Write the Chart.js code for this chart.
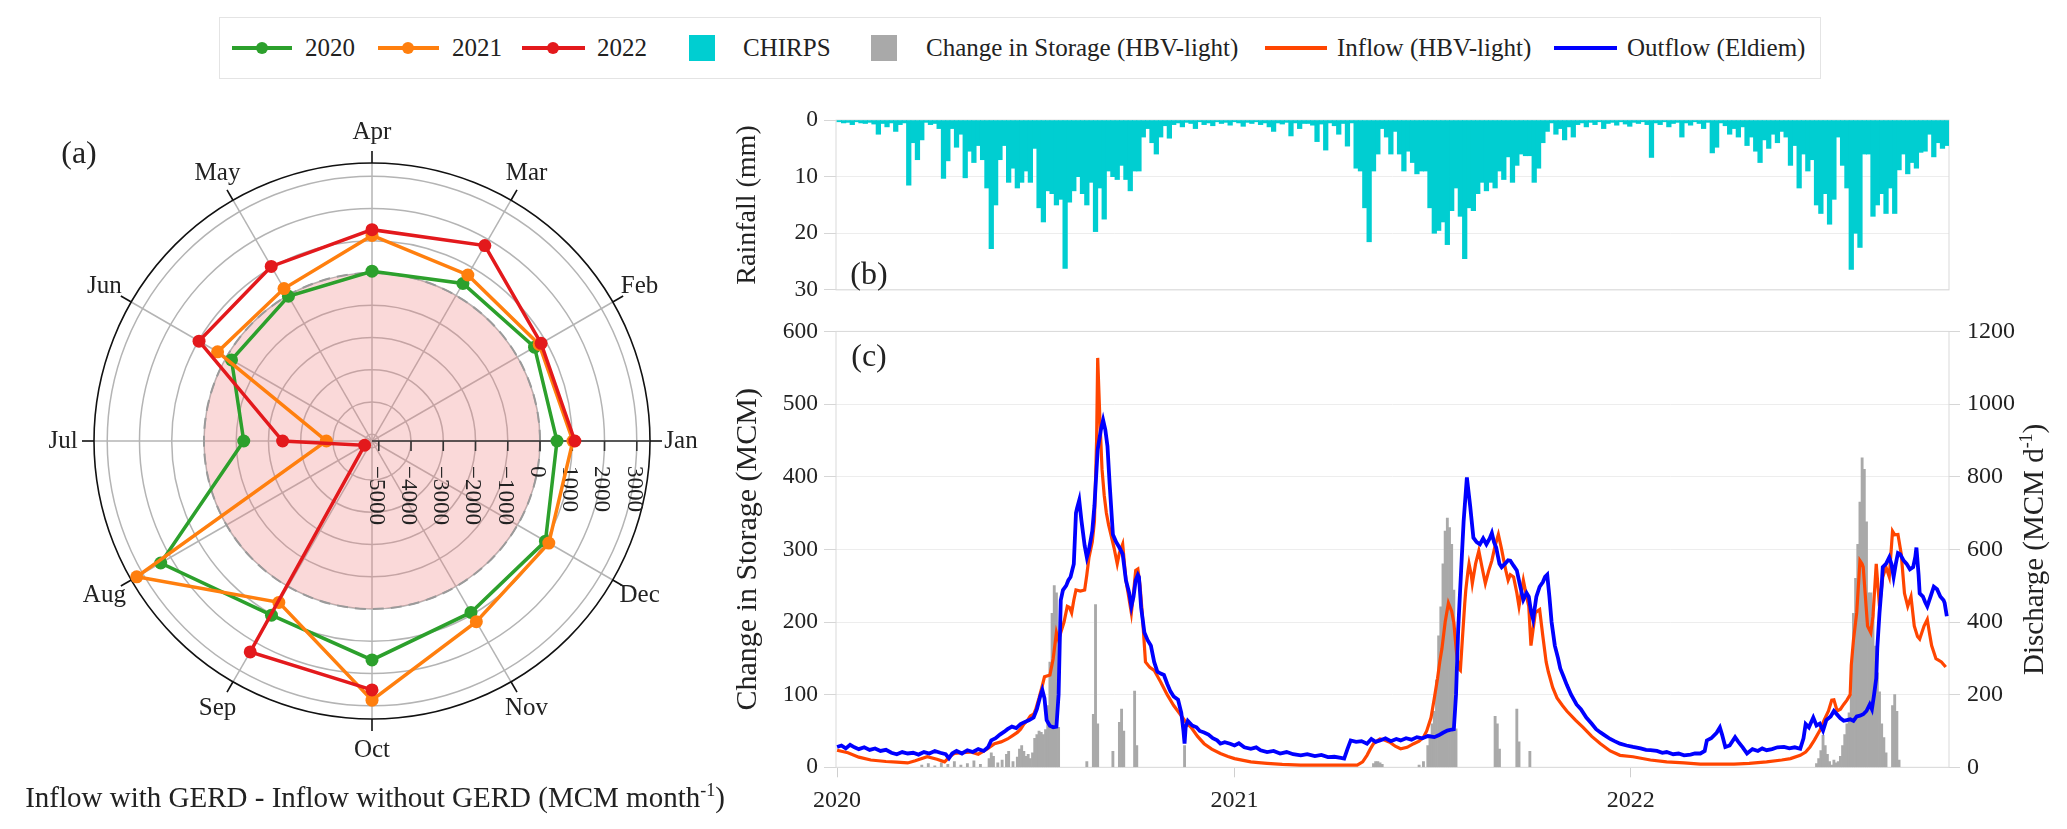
<!DOCTYPE html>
<html>
<head>
<meta charset="utf-8">
<title>GERD inflow, outflow and rainfall</title>
<script src="https://cdn.jsdelivr.net/npm/chart.js@4.4.1/dist/chart.umd.min.js"></script>
<style>
body{margin:0;width:2067px;height:829px;position:relative;overflow:hidden;background:#fff;font-family:"Liberation Serif","Times New Roman",serif;color:#222}
canvas{position:absolute}
#legend{position:absolute;left:219px;top:17px;width:1602px;height:62px;border:1px solid #e4e4e4;box-sizing:border-box}
.ln{position:absolute;height:4px;top:46px}
.dot{position:absolute;width:12px;height:12px;border-radius:50%;top:42px}
.sq{position:absolute;width:26px;height:26px;top:35px}
.lt{position:absolute;top:33px;font-size:25px;line-height:30px;white-space:nowrap}
</style>
</head>
<body>
<div id="legend"></div>
<div class="ln" style="left:232px;width:60px;background:#2ca02c"></div><div class="dot" style="left:256px;background:#2ca02c"></div><div class="lt" style="left:305px">2020</div>
<div class="ln" style="left:378px;width:61px;background:#ff7f0e"></div><div class="dot" style="left:402px;background:#ff7f0e"></div><div class="lt" style="left:452px">2021</div>
<div class="ln" style="left:522px;width:63px;background:#e3191c"></div><div class="dot" style="left:547px;background:#e3191c"></div><div class="lt" style="left:597px">2022</div>
<div class="sq" style="left:689px;background:#00ced1"></div><div class="lt" style="left:743px">CHIRPS</div>
<div class="sq" style="left:871px;background:#a9a9a9"></div><div class="lt" style="left:926px">Change in Storage (HBV-light)</div>
<div class="ln" style="left:1265px;width:62px;background:#ff4500"></div><div class="lt" style="left:1337px">Inflow (HBV-light)</div>
<div class="ln" style="left:1554px;width:63px;background:#0000ff"></div><div class="lt" style="left:1627px">Outflow (Eldiem)</div>

<canvas id="radar" width="745" height="729" style="left:0;top:100px"></canvas>
<canvas id="rain" width="1367" height="210" style="left:700px;top:100px"></canvas>
<canvas id="flow" width="1367" height="519" style="left:700px;top:310px"></canvas>

<script>
Chart.defaults.font.family = '"Liberation Serif", "Times New Roman", serif';
Chart.defaults.color = '#222';
Chart.defaults.animation = false;

// (a) inflow with GERD - inflow without GERD, MCM/month, Jan..Dec
const months = ['Jan','Feb','Mar','Apr','May','Jun','Jul','Aug','Sep','Oct','Nov','Dec'];
const diff2020 = [526, 609, 429, 55, -28, -180, -1233, 2355, 1025, 1579, 928, 1000];
const diff2021 = [1020, 776, 734, 1163, 249, 318, -3795, 3213, 568, 2825, 1260, 1120];
const diff2022 = [1080, 845, 1787, 1343, 1039, 983, -2438, -4945, 2341, 2507, null, null];
const rTicks = [-5000, -4000, -3000, -2000, -1000, 0, 1000, 2000, 3000];
const rMin = -5210, rMax = 3410;
// months clockwise from the top (Apr) -> Jan ends up on the right
const radarOrder = [3, 2, 1, 0, 11, 10, 9, 8, 7, 6, 5, 4];

// time axis in days since 2020-01-01
const dayMin = -1, dayMax = 1024;
const yearDays = [0, 366, 731];
const yearLabels = ['2020', '2021', '2022'];

// (b) CHIRPS rainfall (mm), 4-day steps from 2020-01-01
const rainStep = 4;
const rainfall = [
  0.3,0.5,0.4,0.8,0.3,0.5,0.6,0.4,0.7,2.5,0.6,1.2,0.5,2,0.8,0.5,
  11.5,4,7,3.5, 0.4,0.8,0.6,1.5, 10.3,7.2,1.5,4.8,2.5, 10.2,5.5,7.5,4.5,7,
  12,22.7,15,7,4.5, 11,8.5,12,11,9,11,5, 15.5,18,12.5,13,15,14,
  26.2,14.5,12.5,10,13,15,11, 19.7,12,17.5,9,10,10.5, 8,10.5,12.5,9,9,
  3,1.5,4,6,3,1,3.2,0.8, 0.5,1.2,0.4,0.6,1.5,0.3,0.8,0.5,1,
  0.3,0.6,0.4,0.9,0.3,0.5,1.1,0.4,0.6,0.3,0.8,0.5,1.2,
  2,0.5,0.7,0.4,2.8,0.5,1.5,0.6, 0.6,0.9,3.8,0.7,5.3,0.5,1,2.5,0.6,4.6,0.5,
  8.5,9,15.5,21.5,9,6, 1.5,3,6,2,6,9,5.5,7.5,9.5,9,9,
  15.5,20,19.5,18,22,16,12,17,24.5, 15.5,16,13,11,12.5,11,12,9,10.5,
  6.5,11,8,6,6.3,6.3,11,8.5,4,2, 0.5,2.5,1.5,3.5,1.2,3,0.8,
  0.5,1.2,0.4,0.8,0.3,1.5,0.6,0.4,0.9,0.3,0.7,1.1,0.4,0.6,0.3,0.8,
  6.6, 0.5,0.8,0.3,1.2,0.6,0.4,3,0.5,0.9,0.3,0.6,1.5,0.4,
  5.8,4.8,0.5,1,2.5,1.5,3,1.2, 4.5,3,5.5,7.5,3.5,5,2.5,4,2,3,
  8,4.5,12,6,9,7,15,16.5,13,18.4,14, 3,8,12,26.4,20,22.5,6,6,
  17,15,13,16.5,12,16.5,8.8,6,9.5, 7.5,8.5,5.7,5.5,2.5,6.5,4,5,4.5
];

// (c) [day, MCM/d] inflow (HBV-light)
const inflow = [
  [0,47],[10,40],[20,28],[31,20],[45,16],[55,14],[65,12],[72,18],[83,29],[92,22],[99,15],[104,30],[108,38],[115,40],[123,42],[130,36],
  [138,50],[145,65],[151,70],[157,78],[162,88],[166,96],[169,105],[172,119],[175,128],[178,141],[181,146],[183,160],[186,191],[189,225],
  [191,249],[194,252],[196,254],[199,299],[202,371],[204,350],[206,371],[209,400],[212,443],[214,440],[216,425],[218,460],[220,488],
  [224,485],[228,488],[230,530],[232,578],[235,620],[237,677],[239,900],[240,1127],[242,960],[244,820],[246,749],[248,700],[250,668],
  [253,630],[255,605],[258,560],[260,590],[263,614],[266,515],[268,480],[271,425],[273,480],[275,542],[277,546],[279,500],[281,425],
  [284,290],[288,275],[292,267],[298,235],[304,200],[310,170],[316,146],[321,125],[326,110],[332,85],[338,65],[345,50],[353,38],
  [360,30],[366,24],[374,19],[381,15],[388,13],[396,11],[410,8],[427,6],[458,6],[479,6],[484,15],[488,33],[491,50],[494,65],[497,72],
  [500,78],[504,75],[509,69],[514,58],[519,51],[525,55],[531,65],[536,72],[540,83],[543,100],[547,137],[550,190],[553,245],[555,290],
  [557,326],[560,400],[563,452],[566,430],[568,398],[570,330],[571,299],[573,270],[574,267],[576,360],[578,450],[579,488],[581,540],
  [582,560],[584,530],[585,506],[588,560],[591,596],[594,550],[597,506],[600,540],[603,569],[606,610],[609,641],[612,600],[614,569],
  [616,540],[618,515],[620,530],[623,524],[626,480],[628,443],[630,480],[632,515],[635,470],[637,443],[639,335],[641,380],[643,425],
  [645,430],[647,434],[650,360],[653,290],[655,263],[659,220],[663,191],[668,170],[672,155],[680,130],[687,110],[695,85],[703,65],
  [712,45],[721,33],[733,29],[749,20],[764,15],[780,12],[795,9],[826,9],[840,11],[856,15],[870,20],[878,24],[887,33],[892,42],
  [896,56],[900,75],[905,101],[909,130],[913,155],[916,185],[918,186],[921,155],[924,160],[927,173],[930,185],[933,200],[934,281],
  [936,350],[939,425],[941,520],[942,569],[944,560],[945,551],[947,470],[949,389],[952,371],[954,416],[957,560],[960,443],[963,524],
  [966,551],[969,524],[972,650],[974,640],[977,641],[980,587],[983,479],[986,443],[989,470],[992,389],[995,360],[997,353],[1001,389],
  [1004,407],[1006,370],[1008,335],[1012,299],[1017,290],[1021,276]
];

// (c) [day, MCM/d] outflow (Eldiem)
const outflow = [
  [0,56],[4,60],[8,52],[12,62],[16,55],[20,50],[25,55],[30,48],[35,52],[40,45],[45,48],[50,40],[55,36],[60,42],[65,38],[70,40],
  [75,35],[80,42],[85,38],[90,45],[95,40],[100,36],[103,25],[106,38],[110,45],[115,38],[120,47],[125,42],[130,50],[135,45],[139,55],
  [142,74],[146,80],[150,90],[154,98],[157,105],[161,112],[165,108],[169,119],[173,125],[177,130],[181,137],[184,160],[187,195],
  [189,213],[191,190],[193,130],[196,114],[199,110],[202,112],[204,200],[205,335],[206,460],[208,488],[211,500],[213,515],[215,524],
  [218,560],[220,700],[221,713],[223,735],[225,680],[228,610],[230,578],[232,600],[235,650],[237,720],[240,875],[243,930],[245,956],
  [247,930],[249,884],[251,780],[254,641],[257,620],[260,605],[263,587],[266,515],[269,480],[271,443],[273,470],[275,515],[277,530],
  [278,524],[280,440],[283,371],[286,350],[289,335],[292,290],[295,263],[298,258],[301,254],[304,230],[307,209],[310,195],[314,186],
  [317,150],[319,100],[320,65],[321,110],[323,128],[327,115],[331,110],[334,100],[338,96],[342,90],[346,80],[350,74],[353,65],
  [357,69],[362,65],[366,60],[370,66],[375,55],[381,51],[386,55],[390,47],[396,42],[402,45],[408,38],[414,42],[420,36],[427,33],
  [433,36],[440,31],[446,34],[452,28],[458,29],[464,26],[467,24],[470,50],[473,74],[478,70],[483,72],[488,65],[492,78],[496,70],
  [500,74],[505,80],[510,72],[515,78],[519,74],[524,80],[529,76],[534,83],[539,80],[544,86],[550,83],[554,88],[558,95],[562,101],
  [566,104],[568,105],[570,200],[572,380],[575,560],[577,677],[580,798],[583,720],[586,632],[589,620],[592,614],[595,630],[598,614],
  [601,630],[603,645],[605,620],[607,605],[610,560],[612,551],[615,560],[618,570],[620,569],[623,555],[626,542],[629,500],[632,461],
  [635,480],[637,470],[639,430],[641,407],[644,470],[647,497],[650,510],[652,524],[654,530],[656,470],[658,400],[661,335],[664,300],
  [666,272],[669,250],[672,227],[676,200],[681,173],[685,160],[690,137],[695,120],[699,105],[703,96],[707,88],[712,78],[716,72],
  [721,65],[727,60],[733,56],[740,52],[745,48],[749,47],[755,45],[760,40],[764,42],[770,36],[775,38],[780,33],[786,35],[790,38],
  [795,38],[799,45],[801,74],[805,80],[810,95],[813,110],[815,90],[818,56],[822,60],[827,83],[830,70],[834,55],[838,38],[843,50],
  [848,45],[852,52],[856,47],[861,50],[866,55],[872,56],[877,52],[882,55],[887,51],[890,80],[892,119],[895,110],[899,137],[902,115],
  [905,120],[908,101],[911,130],[915,140],[918,155],[921,145],[924,135],[927,128],[930,130],[933,132],[936,128],[939,140],[942,142],
  [945,146],[948,155],[951,173],[953,160],[955,200],[957,245],[958,330],[960,425],[962,500],[963,551],[966,560],[969,578],[971,560],
  [973,524],[975,560],[977,590],[979,587],[982,570],[985,560],[988,545],[991,551],[993,580],[994,605],[996,530],[997,479],[1000,470],
  [1002,455],[1004,443],[1007,470],[1010,497],[1013,490],[1016,470],[1019,460],[1020,452],[1022,416]
];

// (c) [day, MCM] change in storage (HBV-light), zero elsewhere
const storage = [
  [78,3],[84,5],[90,2],[96,6],[102,4],[108,8],[114,3],[120,5],[126,9],[132,4],[140,12],[142,20],[144,15],[148,6],[152,10],[156,18],
  [158,22],[162,8],[166,14],[168,25],[170,30],[172,22],[174,15],[176,18],[178,12],[180,20],[182,40],[184,45],[186,50],[188,48],
  [190,45],[192,52],[194,85],[196,145],[198,212],[200,250],[202,240],[204,55],[230,8],[236,73],[238,224],[240,60],[254,22],[260,62],
  [262,80],[264,50],[274,105],[276,30],[320,30],
  [494,5],[496,8],[498,8],[500,6],[502,4],[536,3],[540,8],[544,30],[546,45],[548,60],[550,77],[552,120],[554,181],[556,221],
  [558,280],[560,325],[562,343],[564,330],[566,307],[568,244],[570,53],[606,70],[608,60],[610,25],[626,80],[628,35],[638,22],
  [902,5],[904,12],[906,23],[908,44],[910,30],[912,18],[914,8],[916,3],[918,10],[920,6],[922,8],[924,15],[926,30],[928,45],
  [930,60],[932,75],[934,100],[936,212],[938,260],[940,307],[942,365],[944,426],[946,410],[948,338],[950,240],[952,240],[954,212],
  [956,167],[958,130],[960,104],[962,60],[964,41],[966,20],[972,85],[974,100],[976,77],[978,10]
];

const toXY = pairs => pairs.map(p => ({x: p[0], y: p[1]}));
const pick = arr => radarOrder.map(i => arr[i]);
const plain = v => String(v);

// text with a small raised part, e.g. "d-1"
function drawSupText(ctx, parts, x, y, size, rot) {
  const f1 = size + 'px "Liberation Serif"';
  const f2 = Math.round(size * 0.62) + 'px "Liberation Serif"';
  ctx.save();
  ctx.translate(x, y);
  ctx.rotate(rot);
  ctx.textAlign = 'left';
  ctx.textBaseline = 'alphabetic';
  ctx.fillStyle = '#222';
  ctx.font = f1;
  const w1 = ctx.measureText(parts[0]).width, w3 = ctx.measureText(parts[2]).width;
  ctx.font = f2;
  const w2 = ctx.measureText(parts[1]).width;
  let sx = -(w1 + w2 + w3) / 2;
  const base = size * 0.33;
  ctx.font = f1; ctx.fillText(parts[0], sx, base); sx += w1;
  ctx.font = f2; ctx.fillText(parts[1], sx, base - size * 0.38); sx += w2;
  ctx.font = f1; ctx.fillText(parts[2], sx, base);
  ctx.restore();
}

const radarDeco = {
  id: 'radarDeco',
  beforeDatasetsDraw(chart) {
    const s = chart.scales.r, ctx = chart.ctx;
    const cx = s.xCenter, cy = s.yCenter;
    const rOut = s.getDistanceFromCenterForValue(s.max);
    ctx.save();
    ctx.lineWidth = 1.5;
    ctx.strokeStyle = '#b4b4b4';
    rTicks.forEach(v => {
      ctx.beginPath();
      ctx.arc(cx, cy, s.getDistanceFromCenterForValue(v), 0, Math.PI * 2);
      ctx.stroke();
    });
    // shaded disc = negative difference
    ctx.beginPath();
    ctx.arc(cx, cy, s.getDistanceFromCenterForValue(0), 0, Math.PI * 2);
    ctx.fillStyle = 'rgba(240,128,128,0.3)';
    ctx.fill();
    ctx.setLineDash([11, 7]);
    ctx.strokeStyle = '#9a9a9a';
    ctx.lineWidth = 2;
    ctx.stroke();
    ctx.setLineDash([]);
    ctx.beginPath();
    ctx.arc(cx, cy, rOut, 0, Math.PI * 2);
    ctx.strokeStyle = '#111';
    ctx.lineWidth = 1.6;
    ctx.stroke();
    // radial axis drawn along the Jan spoke
    const janIdx = radarOrder.indexOf(0);
    const end = s.getPointPosition(janIdx, rOut);
    ctx.beginPath();
    ctx.moveTo(cx, cy);
    ctx.lineTo(end.x, end.y);
    ctx.strokeStyle = '#333';
    ctx.stroke();
    ctx.font = '23px "Liberation Serif"';
    ctx.fillStyle = '#222';
    ctx.textAlign = 'left';
    ctx.textBaseline = 'middle';
    rTicks.forEach(v => {
      const p = s.getPointPosition(janIdx, s.getDistanceFromCenterForValue(v));
      ctx.beginPath();
      ctx.moveTo(p.x, p.y);
      ctx.lineTo(p.x, p.y + 10);
      ctx.stroke();
      ctx.save();
      ctx.translate(p.x - 3, p.y + 25);
      ctx.rotate(Math.PI / 2);
      ctx.fillText(String(v).replace('-', '\u2212'), 0, 0);
      ctx.restore();
    });
    // month ticks + names
    ctx.strokeStyle = '#111';
    ctx.font = '25px "Liberation Serif"';
    ctx.textAlign = 'center';
    chart.data.labels.forEach((m, i) => {
      const a = s.getPointPosition(i, rOut), b = s.getPointPosition(i, rOut + 12), t = s.getPointPosition(i, rOut + 31);
      ctx.beginPath();
      ctx.moveTo(a.x, a.y);
      ctx.lineTo(b.x, b.y);
      ctx.stroke();
      ctx.fillText(m, t.x, t.y);
    });
    ctx.font = '32px "Liberation Serif"';
    ctx.fillText('(a)', 79, 55);
    drawSupText(ctx, ['Inflow with GERD - Inflow without GERD (MCM month', '-1', ')'], 375, 697, 29, 0);
    ctx.restore();
  }
};

const frame = {
  id: 'frame',
  beforeDatasetsDraw(chart) {
    const a = chart.chartArea, ctx = chart.ctx;
    ctx.save();
    ctx.strokeStyle = '#d9d9d9';
    ctx.lineWidth = 1;
    ctx.strokeRect(a.left, a.top, a.right - a.left, a.bottom - a.top);
    ctx.restore();
  }
};

function panelTag(txt, x, y) {
  return {
    id: 'tag' + txt,
    afterDraw(chart) {
      const ctx = chart.ctx;
      ctx.save();
      ctx.font = '32px "Liberation Serif"';
      ctx.fillStyle = '#222';
      ctx.textAlign = 'center';
      ctx.textBaseline = 'middle';
      ctx.fillText(txt, x, y);
      ctx.restore();
    }
  };
}

new Chart(document.getElementById('radar'), {
  type: 'radar',
  data: {
    labels: pick(months),
    datasets: [
      {label: '2022', data: pick(diff2022), borderColor: '#e3191c', backgroundColor: '#e3191c', fill: false, order: 0},
      {label: '2021', data: pick(diff2021), borderColor: '#ff7f0e', backgroundColor: '#ff7f0e', fill: false, order: 1},
      {label: '2020', data: pick(diff2020), borderColor: '#2ca02c', backgroundColor: '#2ca02c', fill: false, order: 2}
    ]
  },
  options: {
    responsive: false,
    events: [],
    spanGaps: false,
    layout: {padding: {left: 94, right: 95, top: 63.5, bottom: 109.5}},
    elements: {
      line: {borderWidth: 3.5, tension: 0},
      point: {radius: 6.5, borderWidth: 0}
    },
    plugins: {legend: {display: false}, tooltip: {enabled: false}},
    scales: {
      r: {
        min: rMin,
        max: rMax,
        startAngle: 0,
        ticks: {display: false},
        grid: {display: false},
        angleLines: {color: '#b4b4b4', lineWidth: 1.5},
        pointLabels: {display: false}
      }
    }
  },
  plugins: [radarDeco]
});

new Chart(document.getElementById('rain'), {
  type: 'bar',
  data: {
    datasets: [{
      label: 'CHIRPS',
      data: rainfall.map((v, i) => ({x: i * rainStep + rainStep / 2, y: v})),
      backgroundColor: '#00ced1',
      barThickness: 4.6
    }]
  },
  options: {
    responsive: false,
    events: [],
    layout: {padding: {left: 0, right: 118, top: 14, bottom: 13}},
    plugins: {legend: {display: false}, tooltip: {enabled: false}},
    scales: {
      x: {type: 'linear', min: dayMin, max: dayMax, display: false, offset: false, grid: {offset: false}},
      y: {
        min: 0, max: 30, reverse: true,
        ticks: {stepSize: 10, font: {size: 23.5}, padding: 6, callback: plain},
        grid: {color: '#ededed', tickLength: 12, tickColor: '#d6d6d6'},
        border: {display: false},
        title: {display: true, text: 'Rainfall (mm)', font: {size: 28}, padding: {top: 31, bottom: 0}},
        afterFit: s => { s.width = 136; }
      }
    }
  },
  plugins: [frame, panelTag('(b)', 169, 176)]
});

const dischargeTitle = {
  id: 'dischargeTitle',
  afterDraw(chart) {
    const a = chart.chartArea;
    drawSupText(chart.ctx, ['Discharge (MCM d', '-1', ')'], 1333, (a.top + a.bottom) / 2, 29, -Math.PI / 2);
  }
};

new Chart(document.getElementById('flow'), {
  type: 'line',
  data: {
    datasets: [
      {type: 'line', label: 'Outflow (Eldiem)', data: toXY(outflow), borderColor: '#0000ff', borderWidth: 3.8, pointRadius: 0, yAxisID: 'y2', order: 1},
      {type: 'line', label: 'Inflow (HBV-light)', data: toXY(inflow), borderColor: '#ff4500', borderWidth: 3.2, pointRadius: 0, yAxisID: 'y2', order: 2},
      {type: 'bar', label: 'Change in Storage (HBV-light)', data: toXY(storage), backgroundColor: '#a9a9a9', barThickness: 2.2, yAxisID: 'y', order: 3}
    ]
  },
  options: {
    responsive: false,
    events: [],
    layout: {padding: {left: 0, right: 0, top: 12.7, bottom: 0}},
    elements: {line: {tension: 0}},
    plugins: {legend: {display: false}, tooltip: {enabled: false}},
    scales: {
      x: {
        type: 'linear', min: dayMin, max: dayMax, offset: false,
        grid: {offset: false, drawOnChartArea: false, tickLength: 10, color: '#cfcfcf'},
        border: {display: false},
        ticks: {font: {size: 24}, padding: 9, autoSkip: false, maxRotation: 0, callback: (v, i) => yearLabels[i]},
        afterBuildTicks: s => { s.ticks = yearDays.map(v => ({value: v})); },
        afterFit: s => { s.height = 61.7; }
      },
      y: {
        position: 'left', min: 0, max: 600,
        ticks: {stepSize: 100, font: {size: 23.5}, padding: 6, callback: plain},
        grid: {color: '#ededed', tickLength: 12, tickColor: '#d6d6d6'},
        border: {display: false},
        title: {display: true, text: 'Change in Storage (MCM)', font: {size: 30}, padding: {top: 30.5, bottom: 0}},
        afterFit: s => { s.width = 136; }
      },
      y2: {
        position: 'right', min: 0, max: 1200,
        ticks: {stepSize: 200, font: {size: 24}, padding: 7, callback: plain},
        grid: {drawOnChartArea: false, tickLength: 11, color: '#d6d6d6'},
        border: {display: false},
        afterFit: s => { s.width = 118; }
      }
    }
  },
  plugins: [frame, panelTag('(c)', 169, 48), dischargeTitle]
});
</script>
</body>
</html>
